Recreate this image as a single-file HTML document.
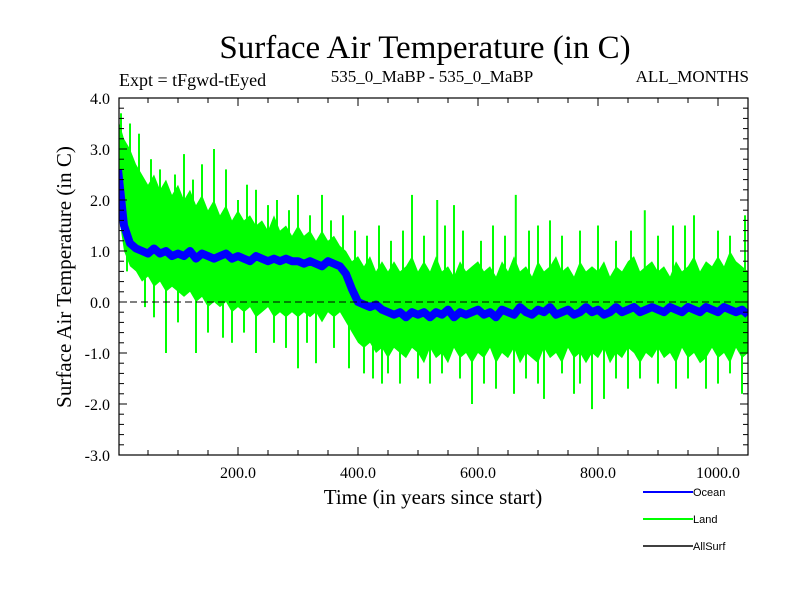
<!DOCTYPE html>
<html><head><meta charset="utf-8"><style>
body{margin:0;background:#fff;}
svg text{font-family:"Liberation Serif",serif;fill:#000;}
</style></head><body>
<svg id="chart" width="800" height="600" viewBox="0 0 800 600" xmlns="http://www.w3.org/2000/svg">
<rect width="800" height="600" fill="#fff"/>
<text x="425" y="58" font-size="33" text-anchor="middle">Surface Air Temperature (in C)</text>
<text x="119" y="86" font-size="18">Expt = tFgwd-tEyed</text>
<text x="432" y="82" font-size="17" text-anchor="middle">535_0_MaBP - 535_0_MaBP</text>
<text x="749" y="82" font-size="17" text-anchor="end">ALL_MONTHS</text>
<g id="plot"></g>
<text x="433" y="504" font-size="21" text-anchor="middle">Time (in years since start)</text>
<text transform="translate(71,277) rotate(-90)" font-size="21" text-anchor="middle">Surface Air Temperature (in C)</text>
<g>
<line x1="643" y1="492" x2="693" y2="492" stroke="#00f" stroke-width="2"/>
<text x="693" y="496" font-size="11" style="font-family:'Liberation Sans',sans-serif">Ocean</text>
<line x1="643" y1="519" x2="693" y2="519" stroke="#0f0" stroke-width="2"/>
<text x="693" y="523" font-size="11" style="font-family:'Liberation Sans',sans-serif">Land</text>
<line x1="643" y1="546" x2="693" y2="546" stroke="#000" stroke-width="1.5"/>
<text x="693" y="550" font-size="11" style="font-family:'Liberation Sans',sans-serif">AllSurf</text>
</g>
</svg>
<script>
const years=[];for(let y=0;y<=1050;y+=10)years.push(y);
const landHi=[3.6,3.2,3.0,2.7,2.5,2.3,2.5,2.2,2.4,2.1,2.3,2.0,2.2,1.9,2.1,1.8,2.0,1.7,1.9,1.6,1.8,1.6,1.7,1.5,1.6,1.4,1.7,1.4,1.5,1.3,1.5,1.3,1.4,1.2,1.4,1.2,1.3,1.1,1.0,0.8,0.9,0.7,0.9,0.6,0.8,0.6,0.8,0.6,0.7,0.9,0.6,0.8,0.6,0.9,0.6,0.7,0.5,0.8,0.6,0.7,0.8,0.6,0.7,0.5,0.8,0.6,0.9,0.6,0.7,0.5,0.8,0.6,0.7,0.9,0.6,0.7,0.5,0.8,0.6,0.7,0.6,0.8,0.5,0.7,0.6,0.8,0.9,0.6,0.7,0.8,0.6,0.7,0.5,0.8,0.6,0.7,0.9,0.6,0.8,0.7,0.9,0.7,1.0,0.8,0.7,0.6];
const landLo=[1.8,1.0,0.7,0.6,0.4,0.5,0.3,0.4,0.2,0.3,0.2,0.1,0.2,0.0,0.1,-0.1,0.0,-0.1,0.0,-0.2,-0.1,-0.2,-0.1,-0.3,-0.2,-0.1,-0.3,-0.2,-0.3,-0.2,-0.3,-0.2,-0.3,-0.2,-0.4,-0.2,-0.3,-0.2,-0.4,-0.6,-0.8,-0.9,-0.8,-1.0,-0.9,-1.1,-0.9,-1.0,-1.1,-0.9,-1.0,-1.2,-0.9,-1.1,-1.0,-1.2,-0.9,-1.1,-1.0,-1.2,-1.0,-1.1,-0.9,-1.2,-1.0,-1.1,-0.9,-1.2,-1.0,-1.1,-1.2,-0.9,-1.1,-1.0,-1.2,-0.9,-1.1,-1.0,-1.2,-1.0,-1.1,-0.9,-1.2,-1.0,-1.1,-0.9,-1.0,-1.2,-1.0,-1.1,-0.9,-1.1,-1.0,-1.2,-0.9,-1.1,-1.0,-1.2,-1.1,-0.9,-1.1,-1.0,-1.2,-0.9,-1.1,-1.0];
const ocean=[2.6,1.5,1.15,1.05,1.0,0.95,1.05,0.95,1.0,0.9,0.95,0.9,1.0,0.85,0.95,0.9,0.85,0.9,0.95,0.85,0.9,0.85,0.8,0.9,0.85,0.8,0.85,0.8,0.85,0.8,0.8,0.75,0.8,0.75,0.7,0.8,0.75,0.7,0.55,0.25,0.0,-0.05,-0.1,-0.05,-0.15,-0.2,-0.25,-0.2,-0.3,-0.2,-0.25,-0.2,-0.3,-0.2,-0.25,-0.15,-0.3,-0.2,-0.25,-0.2,-0.15,-0.25,-0.2,-0.3,-0.15,-0.2,-0.25,-0.1,-0.2,-0.25,-0.15,-0.2,-0.1,-0.25,-0.2,-0.15,-0.25,-0.2,-0.1,-0.2,-0.15,-0.25,-0.2,-0.1,-0.2,-0.15,-0.1,-0.2,-0.15,-0.1,-0.15,-0.2,-0.1,-0.15,-0.2,-0.1,-0.15,-0.2,-0.1,-0.15,-0.2,-0.1,-0.15,-0.2,-0.15,-0.25];
const spikeYears=[5,20,110,140,160,230,300,340,490,532,560,663,720,878,960,1045,80,130,230,300,330,440,470,590,660,710,760,790,810,980,1040,
 35,55,70,95,125,180,200,215,250,265,285,320,355,375,395,415,435,455,475,510,545,575,605,625,645,685,700,740,770,800,830,855,900,925,945,1000,1020,
 15,45,60,100,150,175,190,210,260,280,315,360,385,410,425,450,500,520,540,570,610,630,680,700,740,770,830,850,870,900,930,950,1000,1020];
const spikeValues=[3.7,3.5,2.9,2.7,3.0,2.2,2.1,2.1,2.1,2.0,1.9,2.1,1.6,1.8,1.7,1.7,-1.0,-1.0,-1.0,-1.3,-1.2,-1.6,-1.6,-2.0,-1.8,-1.9,-1.8,-2.1,-1.9,-1.7,-1.8,
 3.3,2.8,2.6,2.5,2.4,2.6,2.0,2.3,1.9,2.0,1.8,1.7,1.6,1.7,1.4,1.3,1.5,1.2,1.4,1.3,1.5,1.4,1.2,1.5,1.3,1.4,1.5,1.3,1.4,1.5,1.2,1.4,1.3,1.5,1.5,1.4,1.3,
 0.6,-0.1,-0.3,-0.4,-0.6,-0.7,-0.8,-0.6,-0.8,-0.9,-0.8,-0.9,-1.3,-1.4,-1.5,-1.4,-1.5,-1.6,-1.4,-1.5,-1.6,-1.7,-1.5,-1.6,-1.4,-1.6,-1.5,-1.7,-1.5,-1.6,-1.7,-1.5,-1.6,-1.4];
const yTicks=[4.0,3.0,2.0,1.0,0.0,-1.0,-2.0,-3.0];
const xTicks=[200,400,600,800,1000];

const NS='http://www.w3.org/2000/svg';
const L=119,R=748,T=98,B=455;
const X=v=>118+v*0.6;
const Y=v=>302-v*51;
const g=document.getElementById('plot');
function mk(tag,attrs){const e=document.createElementNS(NS,tag);for(const k in attrs)e.setAttribute(k,attrs[k]);g.appendChild(e);return e;}
const clip=mk('clipPath',{id:'cp'});const cr=document.createElementNS(NS,'rect');cr.setAttribute('x',L);cr.setAttribute('y',T);cr.setAttribute('width',R-L);cr.setAttribute('height',B-T);clip.appendChild(cr);
let pts=years.map((y,i)=>X(y)+','+Y(landHi[i]));
for(let i=years.length-1;i>=0;i--)pts.push(X(years[i])+','+Y(landLo[i]));
const land=mk('polygon',{points:pts.join(' '),fill:'#0f0','clip-path':'url(#cp)'});


spikeYears.forEach((y,i)=>{const idx=Math.min(years.length-1,Math.round(y/10));const base=spikeValues[i]>ocean[idx]?landHi[idx]-0.3:landLo[idx]+0.3;
const s=mk('line',{x1:X(y),x2:X(y),y1:Y(base),y2:Y(spikeValues[i]),stroke:'#0f0','stroke-width':2,'clip-path':'url(#cp)'});

});
const oc=mk('polyline',{points:years.map((y,i)=>X(y)+','+Y(ocean[i])).join(' '),fill:'none',stroke:'#00f','stroke-width':8,'stroke-linejoin':'round','clip-path':'url(#cp)'});


const z=mk('line',{x1:L,x2:R,y1:Y(0),y2:Y(0),stroke:'#000','stroke-width':1,'stroke-dasharray':'7,4'});


const fr=mk('rect',{x:L,y:T,width:R-L,height:B-T,fill:'none',stroke:'#000','stroke-width':1.2});


for(let v=-3;v<=4.001;v+=0.2){const maj=Math.abs(v-Math.round(v))<0.01;const len=maj?8:5;const y=Y(v);
const t1=mk('line',{x1:L,x2:L+len,y1:y,y2:y,stroke:'#000'});
const t2=mk('line',{x1:R-len,x2:R,y1:y,y2:y,stroke:'#000'});}
for(let v=50;v<=1050;v+=50){const maj=v%200===0;const len=maj?8:5;const x=X(v);
const t1=mk('line',{x1:x,x2:x,y1:B-len,y2:B,stroke:'#000'});
const t2=mk('line',{x1:x,x2:x,y1:T,y2:T+len,stroke:'#000'});}
yTicks.forEach(v=>{const t=mk('text',{x:110,y:Y(v)+6,'font-size':16,'text-anchor':'end'});t.textContent=v.toFixed(1);
});
xTicks.forEach(v=>{const t=mk('text',{x:X(v),y:478,'font-size':16,'text-anchor':'middle'});t.textContent=v.toFixed(1);
});
</script>
</body></html>
